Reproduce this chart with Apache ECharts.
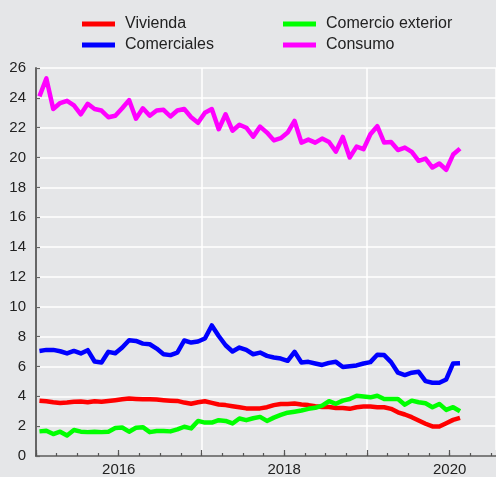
<!DOCTYPE html>
<html>
<head>
<meta charset="utf-8">
<script src="https://cdn.jsdelivr.net/npm/echarts@6/dist/echarts.min.js"></script>
<style>
html,body{margin:0;padding:0;background:#e5e6e8;}
#c{width:496px;height:477px;}
</style>
</head>
<body>
<div id="c"></div>
<script>
// Monthly observations, January 2015 – February 2020
const firstYear = 2015;
const seriesNames = ['Vivienda', 'Comerciales', 'Comercio exterior', 'Consumo'];
const vivienda = [3.71,3.67,3.60,3.55,3.58,3.63,3.65,3.60,3.67,3.63,
  3.69,3.74,3.80,3.85,3.82,3.80,3.80,3.78,3.74,3.71,
  3.69,3.58,3.50,3.60,3.67,3.56,3.45,3.41,3.34,3.27,
  3.19,3.19,3.19,3.27,3.41,3.49,3.49,3.52,3.45,3.41,
  3.34,3.29,3.28,3.22,3.22,3.16,3.27,3.31,3.31,3.27,
  3.27,3.16,2.93,2.78,2.60,2.38,2.16,1.98,1.98,2.20,
  2.42,2.56];
const comerciales = [7.04,7.11,7.11,7.02,6.87,7.04,6.87,7.09,6.33,6.27,
  6.98,6.89,7.27,7.76,7.71,7.53,7.49,7.20,6.82,6.76,
  6.93,7.74,7.60,7.67,7.87,8.75,8.04,7.42,7.00,7.27,
  7.11,6.82,6.93,6.71,6.60,6.53,6.38,6.98,6.27,6.31,
  6.20,6.10,6.24,6.31,5.96,6.02,6.07,6.20,6.29,6.78,
  6.76,6.29,5.58,5.42,5.58,5.64,5.02,4.91,4.91,5.13,
  6.20,6.22];
const comercioExterior = [1.65,1.69,1.47,1.63,1.38,1.74,1.63,1.60,1.63,1.60,
  1.63,1.87,1.91,1.63,1.89,1.93,1.60,1.67,1.67,1.65,
  1.78,1.96,1.85,2.35,2.24,2.24,2.40,2.35,2.18,2.51,
  2.40,2.53,2.62,2.35,2.57,2.75,2.90,2.97,3.05,3.16,
  3.23,3.38,3.67,3.50,3.71,3.82,4.04,3.98,3.93,4.04,
  3.82,3.82,3.82,3.44,3.71,3.60,3.53,3.27,3.49,3.09,
  3.27,3.00];
const consumo = [24.10,25.30,23.25,23.65,23.80,23.50,22.90,23.60,23.25,23.15,
  22.70,22.80,23.30,23.85,22.60,23.30,22.80,23.15,23.20,22.75,
  23.15,23.25,22.70,22.33,23.00,23.25,21.90,22.90,21.80,22.20,
  22.00,21.40,22.07,21.67,21.15,21.30,21.67,22.45,21.00,21.20,
  21.00,21.27,21.04,20.40,21.38,20.00,20.73,20.56,21.56,22.10,
  21.00,21.04,20.50,20.67,20.38,19.78,19.93,19.33,19.60,19.18,
  20.20,20.60];
const yearLabels = [2016, 2018, 2020];
const colors = ['#ff0000', '#0000ff', '#00ff00', '#ff00ff'];

// month index -> position on a year scale (mid-month)
function monthPos(i) { return firstYear + (i + 0.5) / 12; }
function toPairs(arr) { return arr.map((v, i) => [monthPos(i), v]); }

const chart = echarts.init(document.getElementById('c'), null, {renderer: 'canvas'});
const font = 'Liberation Sans, Arial, sans-serif';
const xMin = 2015, xMax = 2020.56;

const legendBase = {
  orient: 'vertical', top: 11, itemGap: 5,
  itemWidth: 33, itemHeight: 5, icon: 'rect',
  textStyle: {fontFamily: font, fontSize: 16, color: '#222', padding: [0, 0, 0, 5]}
};

const option = {
  backgroundColor: '#e5e6e8',
  animation: false,
  legend: [
    Object.assign({left: 77, data: [seriesNames[0], seriesNames[1]]}, legendBase),
    Object.assign({left: 278, data: [seriesNames[2], seriesNames[3]]}, legendBase)
  ],
  grid: {left: 36, right: 0, top: 68, bottom: 21, containLabel: false},
  xAxis: [
    {
      type: 'value', min: xMin, max: xMax, interval: 0.25, position: 'bottom',
      axisLine: {show: true, lineStyle: {color: '#555', width: 1.5}},
      axisTick: {show: true, inside: true, length: 3, lineStyle: {color: '#555', width: 1.2}},
      splitLine: {show: false},
      axisLabel: {
        show: true, margin: 6, fontFamily: font, fontSize: 15, color: '#222',
        showMinLabel: true, showMaxLabel: false,
        formatter: function (v) {
          const r = Math.round(v);
          return (Math.abs(v - r) < 1e-6 && yearLabels.indexOf(r) >= 0) ? String(r) : '';
        }
      }
    },
    {
      type: 'value', min: xMin, max: xMax, interval: 1, position: 'bottom',
      axisLine: {show: false},
      axisTick: {show: true, inside: true, length: 6, lineStyle: {color: '#555', width: 1.2}},
      axisLabel: {show: false},
      splitLine: {show: false}
    },
    {
      type: 'value', min: xMin, max: xMax, interval: 2, position: 'bottom',
      axisLine: {show: false}, axisTick: {show: false}, axisLabel: {show: false},
      splitLine: {show: true, lineStyle: {color: '#ffffff', width: 1.5}}
    }
  ],
  yAxis: {
    type: 'value', min: 0, max: 26, interval: 2,
    axisLine: {show: true, lineStyle: {color: '#666', width: 2}},
    axisTick: {show: true, inside: true, length: 4, lineStyle: {color: '#666', width: 1.2}},
    splitLine: {show: true, lineStyle: {color: '#ffffff', width: 1.5}},
    axisLabel: {margin: 10, fontFamily: font, fontSize: 15, color: '#222'}
  },
  series: [
    {name: seriesNames[0], data: toPairs(vivienda)},
    {name: seriesNames[1], data: toPairs(comerciales)},
    {name: seriesNames[2], data: toPairs(comercioExterior)},
    {name: seriesNames[3], data: toPairs(consumo)}
  ].map((s, k) => Object.assign(s, {
    type: 'line', xAxisIndex: 0, showSymbol: false, symbol: 'none',
    color: colors[k],
    lineStyle: {color: colors[k], width: 4.5, join: 'round'},
    z: 3 + k
  }))
};
chart.setOption(option);
</script>
</body>
</html>
